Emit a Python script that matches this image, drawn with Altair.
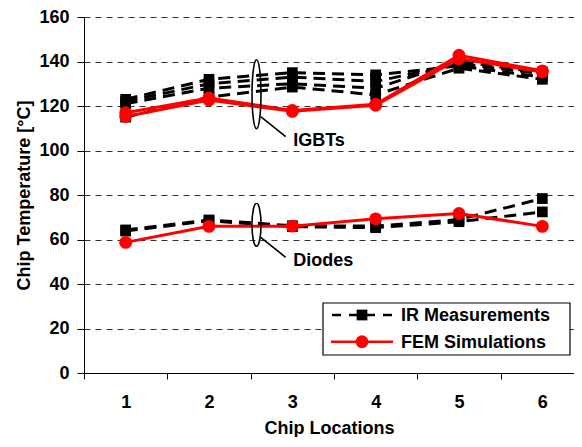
import altair as alt
import pandas as pd

# ---------------- data ----------------
locations = [1, 2, 3, 4, 5, 6]

# IR measurements (black, dashed, squares)
igbt_ir_a = [123.0, 132.0, 135.0, 134.0, 138.0, 133.0]
igbt_ir_b = [122.0, 130.0, 133.0, 131.0, 139.0, 134.5]
igbt_ir_c = [121.0, 128.0, 130.0, 128.0, 140.0, 135.0]
igbt_ir_d = [115.0, 124.0, 128.5, 125.0, 137.0, 132.0]
diode_ir_a = [64.3, 68.8, 66.2, 66.0, 69.0, 78.4]
diode_ir_b = [63.8, 68.4, 65.8, 65.3, 68.0, 72.4]

# FEM simulations (red, solid, circles)
igbt_fem_a = [117.0, 123.6, 118.0, 120.8, 142.8, 135.8]
igbt_fem_b = [115.3, 122.7, 117.6, 120.3, 141.3, 135.3]
diode_fem = [58.7, 65.9, 66.0, 69.3, 71.7, 65.9]

series_names = ["IGBT IR a", "IGBT IR b", "IGBT IR c", "IGBT IR d",
                "Diode IR a", "Diode IR b",
                "IGBT FEM a", "IGBT FEM b", "Diode FEM"]
series_kinds = ["IR Measurements"] * 6 + ["FEM Simulations"] * 3
series_values = [igbt_ir_a, igbt_ir_b, igbt_ir_c, igbt_ir_d,
                 diode_ir_a, diode_ir_b,
                 igbt_fem_a, igbt_fem_b, diode_fem]

# annotations (data coordinates)
group_labels = ["IGBTs", "Diodes"]
ellipse_x = [2.57, 2.57]
ellipse_y = [125.3, 66.6]
leader_x = [2.62, 2.62]
leader_y = [115.2, 61.0]
leader_x2 = [2.92, 2.92]
leader_y2 = [106.2, 52.0]
label_x = [3.01, 3.01]
label_y = [104.4, 50.4]

legend_labels = ["IR Measurements", "FEM Simulations"]

# ---------------- tables ----------------
rows = []
for name, kind, vals in zip(series_names, series_kinds, series_values):
    for loc, v in zip(locations, vals):
        rows.append({"series": name, "kind": kind, "loc": loc, "temp": v})
df = pd.DataFrame(rows)

ann = pd.DataFrame({
    "label": group_labels,
    "ex": ellipse_x, "ey": ellipse_y,
    "lx": leader_x, "ly": leader_y, "lx2": leader_x2, "ly2": leader_y2,
    "tx": label_x, "ty": label_y,
})

FONT = "Liberation Sans"
FS = 18

# the right end of the last band is cut off by the picture edge, as in the original
x_scale = alt.Scale(domain=[0.5, 6.38], nice=False, zero=False)
y_scale = alt.Scale(domain=[0, 160], nice=False)

x_axis = alt.Axis(
    values=[0.5, 1, 1.5, 2, 2.5, 3, 3.5, 4, 4.5, 5, 5.5, 6],
    labelExpr="datum.value % 1 == 0 ? datum.value : ''",
    tickOpacity=alt.condition("datum.value % 1 == 0", alt.value(0), alt.value(1)),
    labelFlush=False,
    grid=False, title="Chip Locations",
    tickSize=6, tickColor="black", domainColor="black",
    labelPadding=14, titlePadding=8,
    labelFont=FONT, labelFontSize=FS, labelFontWeight="bold", labelColor="black",
    titleFont=FONT, titleFontSize=FS, titleFontWeight="bold", titleColor="black",
)
y_axis = alt.Axis(
    values=[0, 20, 40, 60, 80, 100, 120, 140, 160],
    title="Chip Temperature [°C]",
    grid=True, gridDash=[6, 5], gridColor="#333333", gridWidth=1,
    tickSize=7, tickColor="black", domainColor="black",
    labelPadding=8, titlePadding=5,
    labelFont=FONT, labelFontSize=FS, labelFontWeight="bold", labelColor="black",
    titleFont=FONT, titleFontSize=FS, titleFontWeight="bold", titleColor="black",
)

X = alt.X("loc:Q", scale=x_scale, axis=x_axis)
Y = alt.Y("temp:Q", scale=y_scale, axis=y_axis)

base = alt.Chart(df)
ir = base.transform_filter(alt.datum.kind == "IR Measurements")
fem = base.transform_filter(alt.datum.kind == "FEM Simulations")

ir_lines = ir.mark_line(color="black", strokeWidth=3, strokeDash=[12, 7]).encode(
    x=X, y=Y, detail="series:N")
ir_pts = ir.mark_point(shape="square", filled=True, color="black", opacity=1, size=115).encode(
    x=X, y=Y, detail="series:N")
fem_lines = fem.mark_line(color="#ff0000", strokeWidth=3).encode(
    x=X, y=Y, detail="series:N")
fem_pts = fem.mark_point(shape="circle", filled=True, color="#ff0000", opacity=1, size=165).encode(
    x=X, y=Y, detail="series:N")

ann_base = alt.Chart(ann)
igbt_ell = ann_base.transform_filter(alt.datum.label == "IGBTs").mark_point(
    shape="M0,-1 A0.13,1 0 1,0 0,1 A0.13,1 0 1,0 0,-1 Z",
    size=69 * 69, filled=False, color="black", strokeWidth=1.6, opacity=1,
).encode(x=alt.X("ex:Q", scale=x_scale), y=alt.Y("ey:Q", scale=y_scale))
diode_ell = ann_base.transform_filter(alt.datum.label == "Diodes").mark_point(
    shape="M0,-1 A0.21,1 0 1,0 0,1 A0.21,1 0 1,0 0,-1 Z",
    size=43 * 43, filled=False, color="black", strokeWidth=1.6, opacity=1,
).encode(x=alt.X("ex:Q", scale=x_scale), y=alt.Y("ey:Q", scale=y_scale))
leaders = ann_base.mark_rule(color="black", strokeWidth=1.6).encode(
    x=alt.X("lx:Q", scale=x_scale), y=alt.Y("ly:Q", scale=y_scale),
    x2="lx2:Q", y2="ly2:Q")
ann_text = ann_base.mark_text(
    align="left", baseline="middle", font=FONT, fontSize=FS, fontWeight="bold", color="black"
).encode(x=alt.X("tx:Q", scale=x_scale), y=alt.Y("ty:Q", scale=y_scale), text="label:N")

# legend box (decoration)
one = pd.DataFrame({"a": [0]})
leg_box = alt.Chart(one).mark_rect(
    fill="white", stroke="black", strokeWidth=1.2
).encode(x=alt.value(239), x2=alt.value(486), y=alt.value(286), y2=alt.value(338))
leg_ir_line = alt.Chart(one).mark_rule(
    color="black", strokeWidth=2.5, strokeDash=[9, 8], strokeDashOffset=16
).encode(x=alt.value(247), x2=alt.value(309), y=alt.value(298))
leg_ir_pt = alt.Chart(one).mark_point(
    shape="square", filled=True, color="black", opacity=1, size=115
).encode(x=alt.value(278), y=alt.value(298))
leg_fem_line = alt.Chart(one).mark_rule(
    color="#ff0000", strokeWidth=2.5
).encode(x=alt.value(247), x2=alt.value(309), y=alt.value(324.7))
leg_fem_pt = alt.Chart(one).mark_point(
    shape="circle", filled=True, color="#ff0000", opacity=1, size=165
).encode(x=alt.value(278), y=alt.value(324.7))
leg_txt1 = alt.Chart(pd.DataFrame({"t": [legend_labels[0]]})).mark_text(
    align="left", baseline="middle", font=FONT, fontSize=FS, fontWeight="bold", color="black"
).encode(x=alt.value(317), y=alt.value(299), text="t:N")
leg_txt2 = alt.Chart(pd.DataFrame({"t": [legend_labels[1]]})).mark_text(
    align="left", baseline="middle", font=FONT, fontSize=FS, fontWeight="bold", color="black"
).encode(x=alt.value(317), y=alt.value(326), text="t:N")

chart = alt.layer(
    ir_lines, ir_pts, fem_lines, fem_pts,
    igbt_ell, diode_ell, leaders, ann_text,
    leg_box, leg_ir_line, leg_ir_pt, leg_fem_line, leg_fem_pt, leg_txt1, leg_txt2,
).properties(
    width=566, height=429,
    autosize=alt.AutoSizeParams(type="fit", contains="padding"),
    padding={"left": 7, "top": 0, "right": 0, "bottom": 0},
    background="white",
).configure_view(strokeWidth=0)

chart.save("out.html", embed_options={"renderer": "svg", "actions": False})
